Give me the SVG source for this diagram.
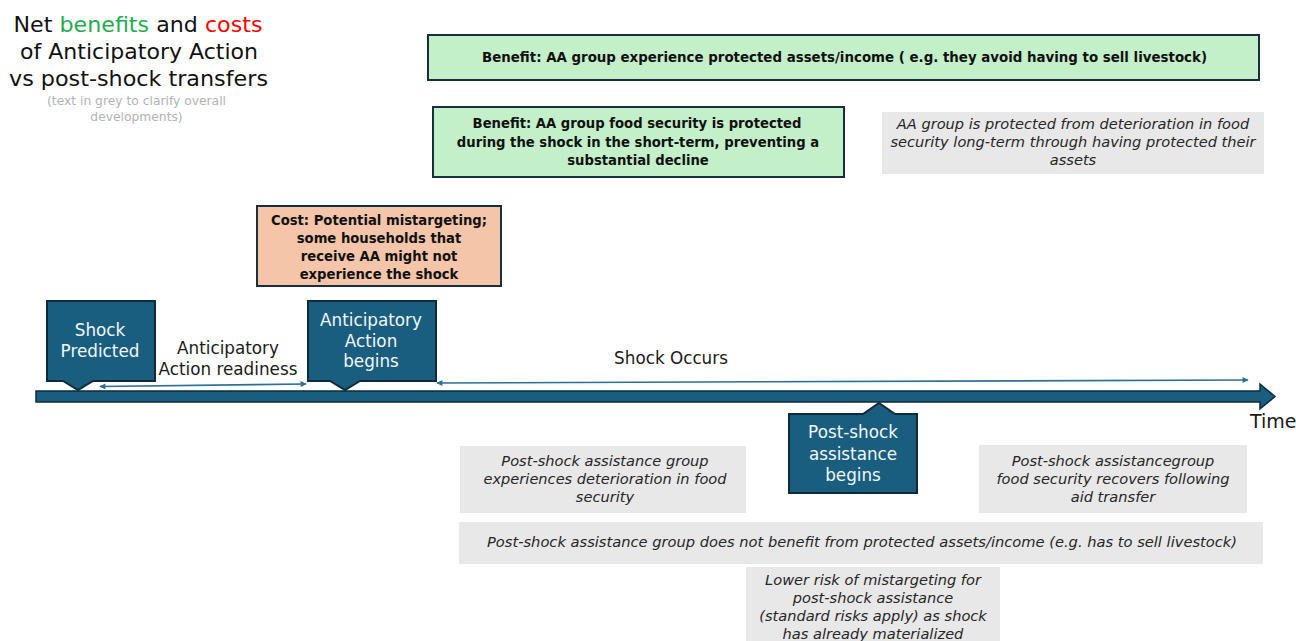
<svg xmlns="http://www.w3.org/2000/svg" width="1296" height="641" viewBox="0 0 1296 641">
<style>
text{font-family:"DejaVu Sans","Liberation Sans",sans-serif;text-anchor:middle}
.title{font-size:21.5px;fill:#111}
.sub{font-size:12.3px;fill:#b3b3b3}
.call{fill:#1a5e7f;stroke:#0f2b3b;stroke-width:2}
.ctext{font-size:16.8px;fill:#f2f6f8}
.lbl{font-size:16.8px;fill:#1a1a1a}
.green{fill:#c3efc9;stroke:#17303d;stroke-width:2}
.cost{fill:#f5c5a9;stroke:#17303d;stroke-width:2}
.bold{font-size:13.2px;font-weight:bold;fill:#111}
.grey{fill:#e8e8e8}
.it{font-size:14.6px;font-style:italic;fill:#262626}
.conn{stroke:#2a6f94;stroke-width:1.6;fill:none}
</style>
<defs>
<marker id="ah" viewBox="0 0 10 10" refX="9" refY="5" markerWidth="7" markerHeight="6" orient="auto-start-reverse" markerUnits="userSpaceOnUse">
<path d="M0,0 L10,5 L0,10 Z" fill="#2a6f94"/>
</marker>
</defs>

<g id="title">
<text class="title" x="138" y="32" textLength="249" lengthAdjust="spacingAndGlyphs">Net <tspan fill="#1fad4f">benefits</tspan> and <tspan fill="#ff0000">costs</tspan></text>
<text class="title" x="139" y="59" textLength="238" lengthAdjust="spacingAndGlyphs">of Anticipatory Action</text>
<text class="title" x="138.5" y="86" textLength="259" lengthAdjust="spacingAndGlyphs">vs post-shock transfers</text>
<text class="sub" x="136.5" y="105">(text in grey to clarify overall</text>
<text class="sub" x="136.5" y="121">developments)</text>
</g>

<g id="timeline">
<path d="M36,391 H1260 V384 L1275,396.5 L1260,409 V402 H36 Z" fill="#1a5e7f" stroke="#0f2b3b" stroke-width="1.5"/>
<text class="lbl" x="1250" y="428" style="font-size:19px;text-anchor:start">Time</text>
</g>

<g id="connectors">
<line class="conn" x1="100" y1="386.5" x2="306" y2="384" marker-start="url(#ah)" marker-end="url(#ah)"/>
<line class="conn" x1="437" y1="383" x2="1248" y2="380" marker-start="url(#ah)" marker-end="url(#ah)"/>
</g>

<g id="shock-predicted">
<path class="call" d="M47,301 H155 V381 H93 L78,390 L63,381 H47 Z"/>
<text class="ctext" x="100" y="336">Shock</text>
<text class="ctext" x="100" y="357">Predicted</text>
</g>

<g id="aa-readiness">
<text class="lbl" x="228" y="354">Anticipatory</text>
<text class="lbl" x="228" y="375">Action readiness</text>
</g>

<g id="aa-begins">
<path class="call" d="M308,301 H436 V381 H360 L345,390 L330,381 H308 Z"/>
<text class="ctext" x="371" y="326">Anticipatory</text>
<text class="ctext" x="371" y="347">Action</text>
<text class="ctext" x="371" y="367">begins</text>
</g>

<g id="shock-occurs">
<text class="lbl" x="671" y="364">Shock Occurs</text>
</g>

<g id="post-shock-begins">
<path class="call" d="M789,414 H863 L879,403 L895,414 H917 V493 H789 Z"/>
<text class="ctext" x="853" y="438">Post-shock</text>
<text class="ctext" x="853" y="460">assistance</text>
<text class="ctext" x="853" y="481">begins</text>
</g>

<g id="benefit-assets">
<rect class="green" x="428" y="35" width="831" height="45"/>
<text class="bold" x="844.5" y="62" textLength="725" lengthAdjust="spacingAndGlyphs">Benefit: AA group experience protected assets/income ( e.g. they avoid having to sell livestock)</text>
</g>

<g id="benefit-food">
<rect class="green" x="433" y="107" width="411" height="70"/>
<text class="bold" x="637" y="128">Benefit: AA group food security is protected</text>
<text class="bold" x="638" y="147">during the shock in the short-term, preventing a</text>
<text class="bold" x="638" y="165">substantial decline</text>
</g>

<g id="cost-mistargeting">
<rect class="cost" x="257" y="206" width="244" height="80"/>
<text class="bold" x="379" y="225">Cost: Potential mistargeting;</text>
<text class="bold" x="379" y="243">some households that</text>
<text class="bold" x="379" y="261">receive AA might not</text>
<text class="bold" x="379" y="279">experience the shock</text>
</g>

<g id="aa-longterm">
<rect class="grey" x="882" y="112" width="382" height="62"/>
<text class="it" x="1073" y="129">AA group is protected from deterioration in food</text>
<text class="it" x="1073" y="147">security long-term through having protected their</text>
<text class="it" x="1073" y="165">assets</text>
</g>

<g id="ps-deterioration">
<rect class="grey" x="460" y="446" width="286" height="67"/>
<text class="it" x="605" y="466">Post-shock assistance group</text>
<text class="it" x="605" y="484">experiences deterioration in food</text>
<text class="it" x="605" y="502">security</text>
</g>

<g id="ps-recovers">
<rect class="grey" x="979" y="445" width="268" height="68"/>
<text class="it" x="1113" y="466">Post-shock assistancegroup</text>
<text class="it" x="1113" y="484">food security recovers following</text>
<text class="it" x="1113" y="502">aid transfer</text>
</g>

<g id="ps-no-benefit">
<rect class="grey" x="459" y="522" width="804" height="42"/>
<text class="it" x="862" y="547" textLength="750" lengthAdjust="spacingAndGlyphs">Post-shock assistance group does not benefit from protected assets/income (e.g. has to sell livestock)</text>
</g>

<g id="ps-lower-risk">
<rect class="grey" x="746" y="567" width="254" height="80"/>
<text class="it" x="873" y="585">Lower risk of mistargeting for</text>
<text class="it" x="873" y="603">post-shock assistance</text>
<text class="it" x="873" y="621">(standard risks apply) as shock</text>
<text class="it" x="873" y="639">has already materialized</text>
</g>
</svg>
